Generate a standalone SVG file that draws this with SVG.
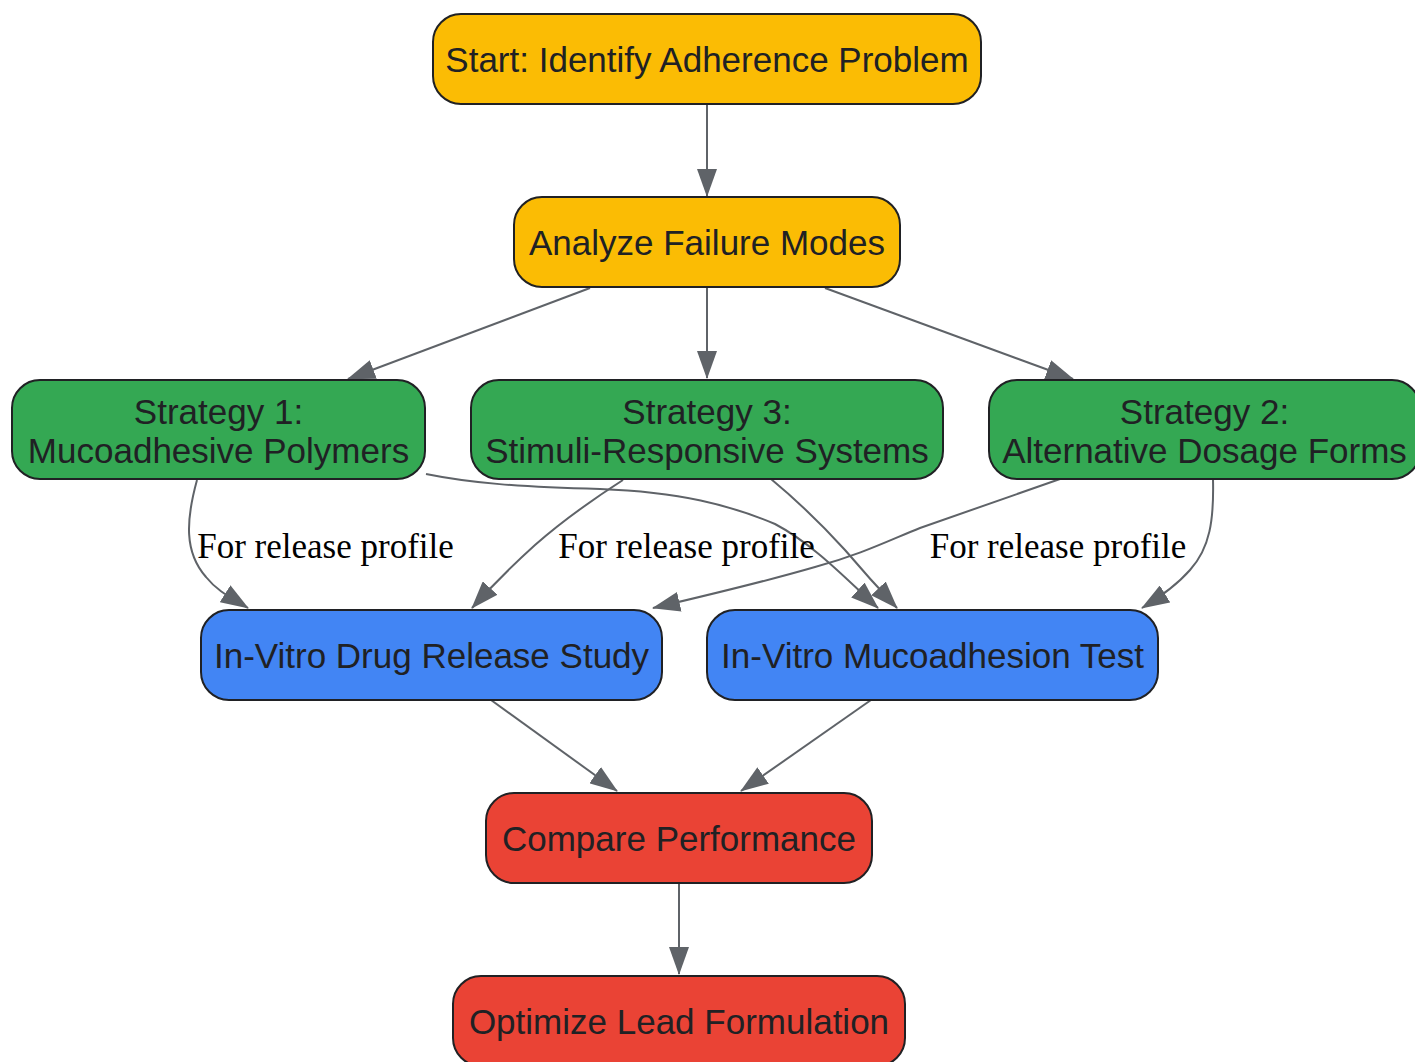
<svg xmlns="http://www.w3.org/2000/svg" width="1415" height="1062" viewBox="0 0 1415 1062">
<style>
.node rect{stroke:#202124;stroke-width:2}
.y rect{fill:#fbbc04}
.g rect{fill:#34a853}
.b rect{fill:#4285f4}
.r rect{fill:#ea4335}
.node text{font-family:"Liberation Sans",Arial,sans-serif;font-size:35px;fill:#202124;text-anchor:middle}
.edges path{fill:none;stroke:#5f6368;stroke-width:2;marker-end:url(#ah)}
.lbl{font-family:"Liberation Serif","Times New Roman",serif;font-size:35px;fill:#000;text-anchor:middle}
</style>
<defs>
<marker id="ah" markerUnits="userSpaceOnUse" markerWidth="28" markerHeight="20" refX="27" refY="10" orient="auto" viewBox="0 0 28 20">
<path d="M0,0 L28,10 L0,20 z" fill="#5f6368"/>
</marker>
</defs>
<rect width="1415" height="1062" fill="#fff"/>
<g class="edges">
<path d="M707,104 L707,196"/>
<path d="M590,288 L348,379"/>
<path d="M707,287 L707,378"/>
<path d="M825,288 L1073,379"/>
<path d="M197,480 C186,520 184,552 206,577 C218,592 232,598 248,608"/>
<path d="M426,474 C470,483 520,487 600,489 C680,492 730,505 775,524 C815,545 850,583 878,608"/>
<path d="M623,480 C595,498 560,523 535,545 C515,563 492,586 472,608"/>
<path d="M771,479 C800,503 825,528 845,550 C862,570 880,590 897,608"/>
<path d="M1060,479 L920,528 C890,540 860,555 815,567 C760,583 700,597 653,608"/>
<path d="M1213,479 C1214,520 1210,548 1190,570 C1176,586 1160,597 1142,608"/>
<path d="M491,700 L617,791"/>
<path d="M871,700 L741,791"/>
<path d="M679,883 L679,974"/>
<text class="lbl" x="325.5" y="558">For release profile</text>
<text class="lbl" x="686.5" y="558">For release profile</text>
<text class="lbl" x="1058" y="558">For release profile</text>
</g>
<g id="start" class="node y"><rect x="433" y="14" width="548" height="90" rx="28"/><text x="707" y="72">Start: Identify Adherence Problem</text></g>
<g id="analyze" class="node y"><rect x="514" y="197" width="386" height="90" rx="28"/><text x="707" y="255">Analyze Failure Modes</text></g>
<g id="s1" class="node g"><rect x="12" y="380" width="413" height="99" rx="28"/><text x="218.5" y="424">Strategy 1:</text><text x="218.5" y="463">Mucoadhesive Polymers</text></g>
<g id="s3" class="node g"><rect x="471" y="380" width="472" height="99" rx="28"/><text x="707" y="424">Strategy 3:</text><text x="707" y="463">Stimuli-Responsive Systems</text></g>
<g id="s2" class="node g"><rect x="989" y="380" width="431" height="99" rx="28"/><text x="1204.5" y="424">Strategy 2:</text><text x="1204.5" y="463">Alternative Dosage Forms</text></g>
<g id="release" class="node b"><rect x="201" y="610" width="461" height="90" rx="28"/><text x="431.5" y="668">In-Vitro Drug Release Study</text></g>
<g id="muco" class="node b"><rect x="707" y="610" width="451" height="90" rx="28"/><text x="932.5" y="668">In-Vitro Mucoadhesion Test</text></g>
<g id="compare" class="node r"><rect x="486" y="793" width="386" height="90" rx="28"/><text x="679" y="851">Compare Performance</text></g>
<g id="optimize" class="node r"><rect x="453" y="976" width="452" height="90" rx="28"/><text x="679" y="1034">Optimize Lead Formulation</text></g>
</svg>
